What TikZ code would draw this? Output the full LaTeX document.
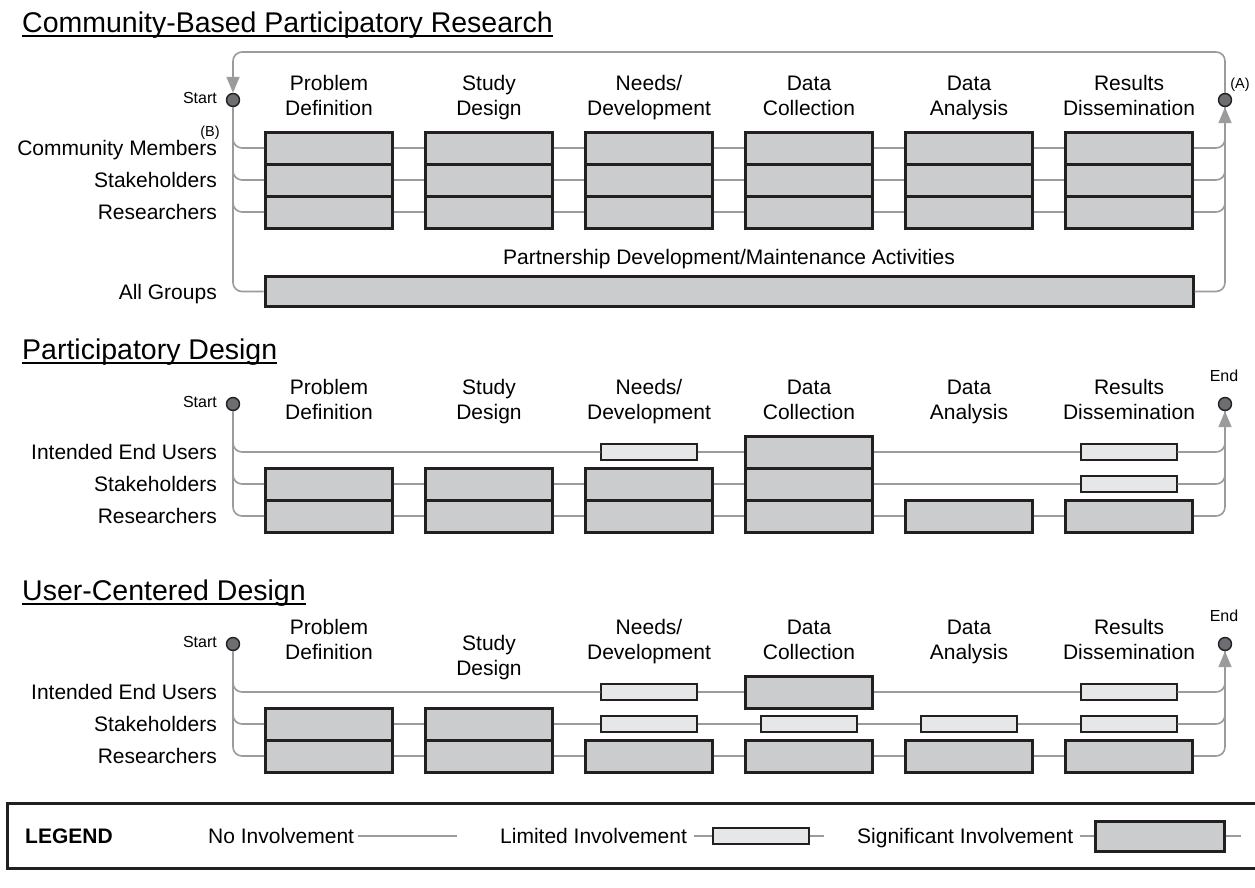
\documentclass[tikz,border=0pt]{standalone}
\usepackage{fontspec}
\setmainfont{Liberation Sans}
\usetikzlibrary{arrows.meta}
\definecolor{ln}{HTML}{9B9B9B}
\definecolor{bd}{HTML}{231F20}
\definecolor{sigf}{HTML}{CBCCCE}
\definecolor{limf}{HTML}{E6E7E8}
\definecolor{dotf}{HTML}{6D6E71}
\newcommand\myul[1]{\setbox0\hbox{#1}\rlap{\rule[-4.5pt]{\wd0}{1.6pt}}\box0}
\newcommand\hstrut{\rule{0pt}{20pt}}
\begin{document}
\begin{tikzpicture}[x=1pt,y=-1pt,
  sig/.style={draw=bd,line width=3pt,fill=sigf,minimum width=127pt,minimum height=32pt,inner sep=0pt},
  lim/.style={draw=bd,line width=1.3pt,fill=limf,minimum width=96pt,minimum height=16pt,inner sep=0pt},
  conn/.style={draw=ln,line width=1.6pt,rounded corners=9pt},
  tip/.style={-{Triangle[length=16pt,width=13pt]}},
  dot/.style={circle,draw=bd,line width=1.4pt,fill=dotf,minimum size=13pt,inner sep=0pt},
  hdr/.style={anchor=north,align=center,font=\fontsize{21}{25}\selectfont,inner sep=0pt},
  lbl/.style={anchor=base east,font=\fontsize{21}{25}\selectfont,inner sep=0pt},
  txt/.style={anchor=base west,font=\fontsize{21}{25}\selectfont,inner sep=0pt},
  small/.style={font=\fontsize{16}{18}\selectfont,inner sep=0pt},
  tiny/.style={anchor=base,font=\fontsize{14.5}{16}\selectfont,inner sep=0pt},
  ttl/.style={anchor=base west,font=\fontsize{28.5}{32}\selectfont,inner sep=0pt},
]
\useasboundingbox (0,0) rectangle (1255,887);
\fill[white] (0,0) rectangle (1255,887);

% ================= CBPR =================
\node[ttl] (t1) at (22,32) {\myul{Community-Based Participatory Research}};
\node[dot] (s1) at (233,100) {};
\node[dot] (e1) at (1225,100) {};
\node[small,anchor=base east] (s1l) at (217,103) {Start};
\node[tiny] (al) at (1240,88) {(A)};
\node[tiny] (bl) at (210,136) {(B)};
\foreach \i/\x/\t in {1/329/{Problem\\Definition},2/489/{Study\\Design},3/649/{Needs/\\Development},4/809/{Data\\Collection},5/969/{Data\\Analysis},6/1129/{Results\\Dissemination}}{
  \node[hdr] (ha\i) at (\x,70.5) {\hstrut\t};
  \node[sig] (pa\i) at (\x,148) {};
  \node[sig] (pb\i) at (\x,180) {};
  \node[sig] (pc\i) at (\x,212) {};
}
\node[lbl] (l1a) at (217,155.5) {Community Members};
\node[lbl] (l1b) at (217,187.5) {Stakeholders};
\node[lbl] (l1c) at (217,219.5) {Researchers};
\node[sig,minimum width=928pt,minimum height=30pt] (ag) at (729,291.5) {};
\node[hdr] (pdm) at (729,244.5) {\hstrut Partnership Development/Maintenance Activities};
\node[lbl] (l1d) at (217,299) {All Groups};
\coordinate (lr) at (1225,52);
\coordinate (ll) at (233,52);
\draw[conn,tip] (e1.north) -- (lr) -- (ll) -- (s1.north);
\foreach \r in {a,b,c}{
  \draw[conn] (s1.south) |- (p\r1.west);
  \foreach \i/\j in {1/2,2/3,3/4,4/5,5/6} \draw[conn] (p\r\i.east) -- (p\r\j.west);
  \draw[conn] (p\r6.east) -| (e1.south);
}
\draw[conn] (s1.south) |- (ag.west);
\draw[conn,tip] (ag.east) -| (e1.south);

% ================= PD =================
\node[ttl] (t2) at (22,359) {\myul{Participatory Design}};
\node[dot] (s2) at (233,404) {};
\node[dot] (e2) at (1225,404) {};
\node[small,anchor=base east] (s2l) at (217,407) {Start};
\node[small,anchor=base] (e2l) at (1224,381) {End};
\foreach \i/\x/\t in {1/329/{Problem\\Definition},2/489/{Study\\Design},3/649/{Needs/\\Development},4/809/{Data\\Collection},5/969/{Data\\Analysis},6/1129/{Results\\Dissemination}}{
  \node[hdr] (hb\i) at (\x,374.5) {\hstrut\t};
}
\node[lbl] (l2a) at (217,459.5) {Intended End Users};
\node[lbl] (l2b) at (217,491.5) {Stakeholders};
\node[lbl] (l2c) at (217,523.5) {Researchers};
% row a
\node[lim] (qa3) at (649,452) {};
\node[sig] (qa4) at (809,452) {};
\node[lim] (qa6) at (1129,452) {};
% row b
\node[sig] (qb1) at (329,484) {};
\node[sig] (qb2) at (489,484) {};
\node[sig] (qb3) at (649,484) {};
\node[sig] (qb4) at (809,484) {};
\node[lim] (qb6) at (1129,484) {};
% row c
\foreach \i/\x in {1/329,2/489,3/649,4/809,5/969,6/1129} \node[sig] (qc\i) at (\x,516) {};
\draw[conn] (s2.south) |- (qa3.west);
\draw[conn] (qa3.east) -- (qa4.west);
\draw[conn] (qa4.east) -- (qa6.west);
\draw[conn,tip] (qa6.east) -| (e2.south);
\draw[conn] (s2.south) |- (qb1.west);
\foreach \i/\j in {1/2,2/3,3/4} \draw[conn] (qb\i.east) -- (qb\j.west);
\draw[conn] (qb4.east) -- (qb6.west);
\draw[conn] (qb6.east) -| (e2.south);
\draw[conn] (s2.south) |- (qc1.west);
\foreach \i/\j in {1/2,2/3,3/4,4/5,5/6} \draw[conn] (qc\i.east) -- (qc\j.west);
\draw[conn] (qc6.east) -| (e2.south);

% ================= UCD =================
\node[ttl] (t3) at (22,600.5) {\myul{User-Centered Design}};
\node[dot] (s3) at (233,644) {};
\node[dot] (e3) at (1225,644) {};
\node[small,anchor=base east] (s3l) at (217,647) {Start};
\node[small,anchor=base] (e3l) at (1224,621) {End};
\node[hdr] (hc1) at (329,614.5) {\hstrut Problem\\Definition};
\node[hdr] (hc2) at (489,630.5) {\hstrut Study\\Design};
\node[hdr] (hc3) at (649,614.5) {\hstrut Needs/\\Development};
\node[hdr] (hc4) at (809,614.5) {\hstrut Data\\Collection};
\node[hdr] (hc5) at (969,614.5) {\hstrut Data\\Analysis};
\node[hdr] (hc6) at (1129,614.5) {\hstrut Results\\Dissemination};
\node[lbl] (l3a) at (217,699.5) {Intended End Users};
\node[lbl] (l3b) at (217,731.5) {Stakeholders};
\node[lbl] (l3c) at (217,763.5) {Researchers};
% row a
\node[lim] (ra3) at (649,692) {};
\node[sig] (ra4) at (809,692) {};
\node[lim] (ra6) at (1129,692) {};
% row b
\node[sig] (rb1) at (329,724) {};
\node[sig] (rb2) at (489,724) {};
\node[lim] (rb3) at (649,724) {};
\node[lim] (rb4) at (809,724) {};
\node[lim] (rb5) at (969,724) {};
\node[lim] (rb6) at (1129,724) {};
% row c
\foreach \i/\x in {1/329,2/489,3/649,4/809,5/969,6/1129} \node[sig] (rc\i) at (\x,756) {};
\draw[conn] (s3.south) |- (ra3.west);
\draw[conn] (ra3.east) -- (ra4.west);
\draw[conn] (ra4.east) -- (ra6.west);
\draw[conn,tip] (ra6.east) -| (e3.south);
\draw[conn] (s3.south) |- (rb1.west);
\foreach \i/\j in {1/2,2/3,3/4,4/5,5/6} \draw[conn] (rb\i.east) -- (rb\j.west);
\draw[conn] (rb6.east) -| (e3.south);
\draw[conn] (s3.south) |- (rc1.west);
\foreach \i/\j in {1/2,2/3,3/4,4/5,5/6} \draw[conn] (rc\i.east) -- (rc\j.west);
\draw[conn] (rc6.east) -| (e3.south);

% ================= Legend =================
\draw[draw=bd,line width=3pt] (7,803) rectangle (1265,868);
\node[txt,font=\fontsize{21}{25}\selectfont\bfseries] (lg) at (25,843.5) {LEGEND};
\node[txt] (ni) at (208,843.5) {No Involvement};
\coordinate (ni1) at (358,836);
\coordinate (ni2) at (457,836);
\draw[conn] (ni1) -- (ni2);
\node[txt] (li) at (500,843.5) {Limited Involvement};
\node[lim] (lb) at (761,836) {};
\coordinate (li1) at (694,836);
\coordinate (li2) at (824,836);
\draw[conn] (li1) -- (lb.west);
\draw[conn] (lb.east) -- (li2);
\node[txt] (si) at (857,843.5) {Significant Involvement};
\node[sig,minimum width=129pt,minimum height=30pt] (sb) at (1160,836) {};
\coordinate (si1) at (1080,836);
\coordinate (si2) at (1241,836);
\draw[conn] (si1) -- (sb.west);
\draw[conn] (sb.east) -- (si2);
\end{tikzpicture}
\end{document}
